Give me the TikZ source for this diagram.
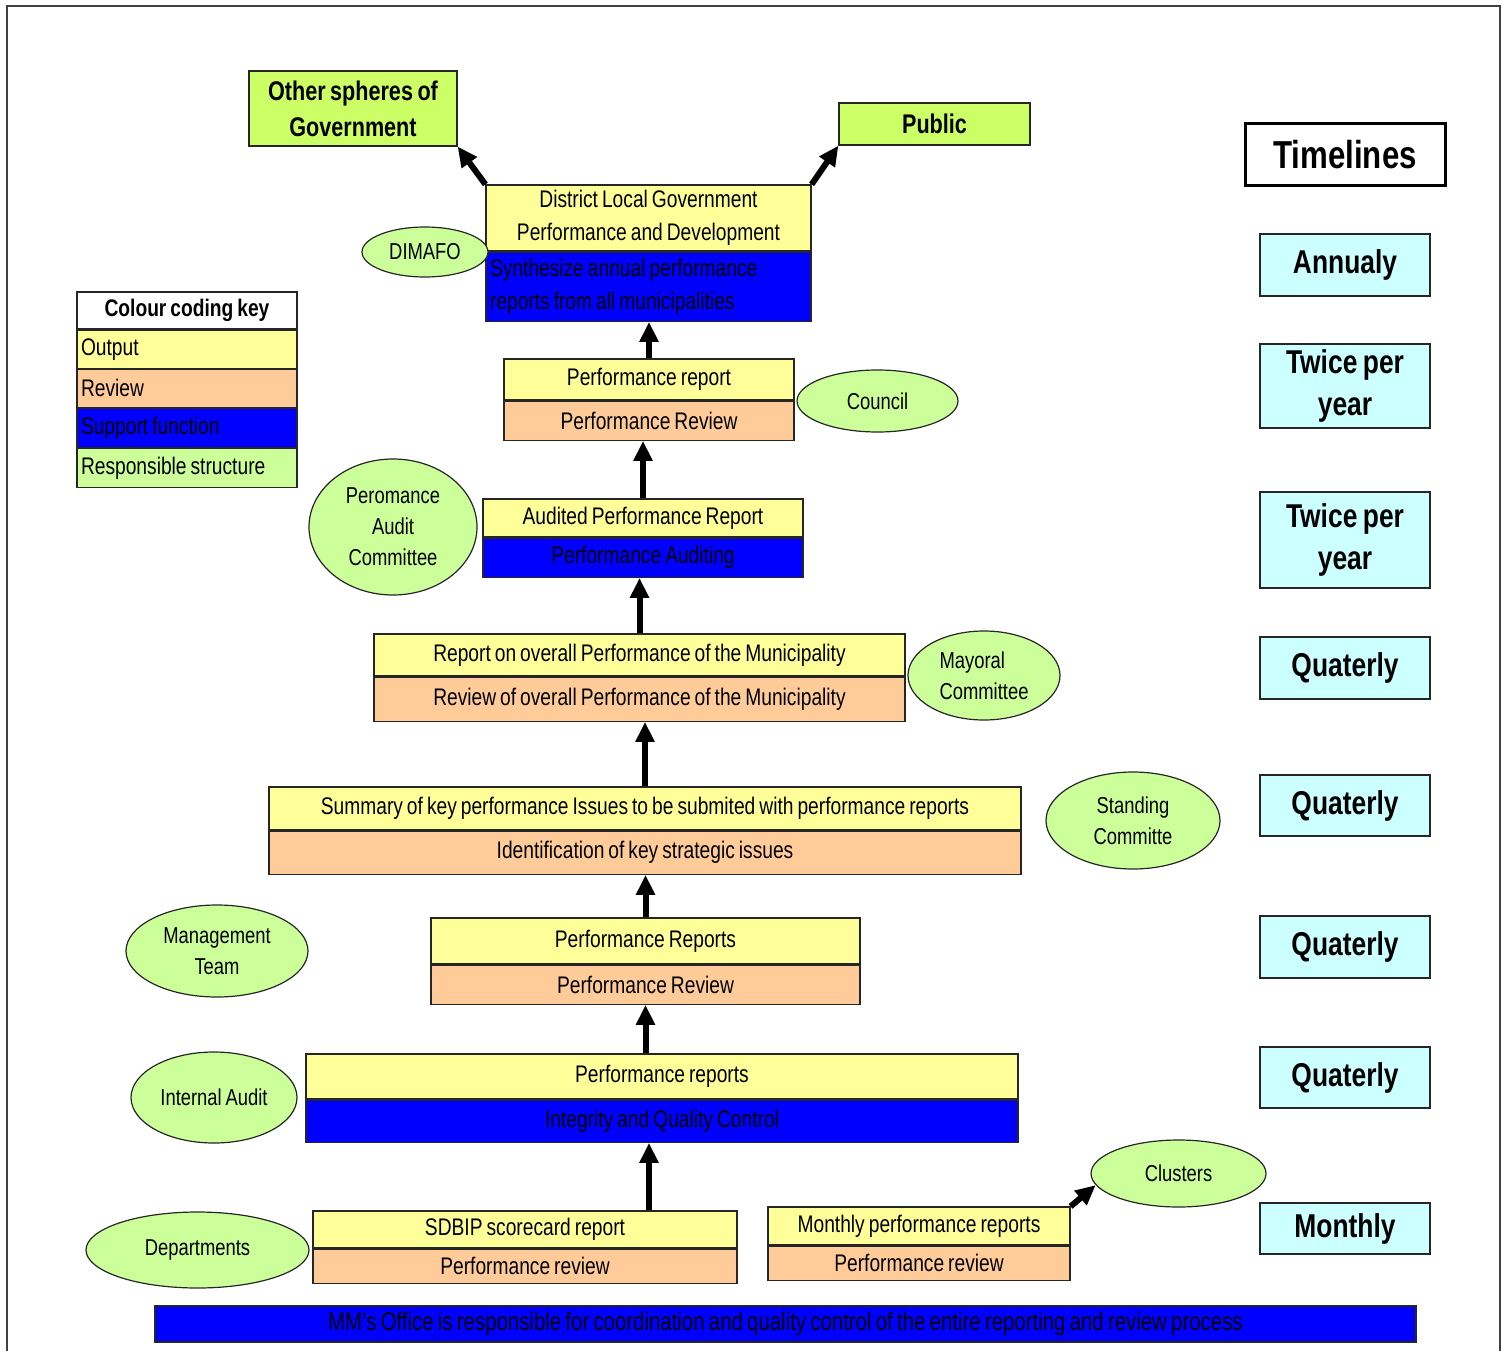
\documentclass[tikz,border=0pt]{standalone}
\usepackage{xcolor}
\usepackage{fontspec}
\setmainfont{Liberation Sans}[FakeStretch=0.8,WordSpace=0.75]
\usepackage{tikz}
\usetikzlibrary{positioning,shapes.geometric,arrows.meta}

\definecolor{outyellow}{HTML}{FFFF99}
\definecolor{revpeach}{HTML}{FFCC99}
\definecolor{supblue}{HTML}{0000FF}
\definecolor{resgreen}{HTML}{CCFF99}
\definecolor{extgreen}{HTML}{CCFF66}
\definecolor{timecyan}{HTML}{CCFFFF}

\begin{document}
\begin{tikzpicture}[x=1pt,y=-1pt,
  part/.style={draw=black!85,line width=1.2pt,inner sep=4pt,font=\fontsize{24}{33}\selectfont},
  output/.style={part,fill=outyellow,align=center},
  review/.style={part,fill=revpeach,align=center},
  support/.style={part,fill=supblue,align=center},
  tightsp/.style={execute at begin node={\spaceskip=\fontdimen2\font\relax}},
  keyrow/.style={part,tightsp,text width=212pt,minimum height=38pt,align=left},
  resp/.style={ellipse,draw=black!85,line width=1.2pt,fill=resgreen,inner sep=0pt,
    align=center,font=\fontsize{23}{31}\selectfont},
  extbox/.style={draw=black!85,line width=1.2pt,fill=extgreen,align=center,
    font=\bfseries\fontsize{27}{36}\selectfont},
  timebox/.style={draw=black!85,line width=1.2pt,fill=timecyan,minimum width=170pt,
    align=center,font=\bfseries\fontsize{33}{42}\selectfont},
  arr/.style={line width=6pt,-{Triangle[length=20pt,width=18pt]}}]

  \useasboundingbox (0,0) rectangle (1509,1351);
  \draw[black!75,line width=2pt] (7,1351) -- (7,6) -- (1500,6) -- (1500,1351);

  % Livello distrettuale
  \node[output,minimum width=325pt,minimum height=66pt] (dlgTop) at (648.5,218)
    {District Local Government\\Performance and Development};
  \node[support,tightsp,below=0pt of dlgTop,text width=317pt,minimum height=69pt,align=left] (dlgBot)
    {Synthesize annual performance\\reports from all municipalities};
  \node[resp,minimum width=126pt,minimum height=50pt] (dimafo) at (425,252) {DIMAFO};
  \node[extbox,minimum width=208pt,minimum height=75pt] (spheres) at (353,108.5)
    {Other spheres of\\Government};
  \node[extbox,minimum width=191pt,minimum height=42pt] (public) at (934.5,124) {Public};

  % Legenda
  \node[part,tightsp,text width=212pt,minimum height=37pt,align=center,
    font=\bfseries\fontsize{24}{30}\selectfont] (keyHead) at (187,310.5) {Colour coding key};
  \node[keyrow,fill=outyellow,below=0pt of keyHead] (keyOut) {Output};
  \node[keyrow,fill=revpeach,below=0pt of keyOut] (keyRev) {Review};
  \node[keyrow,fill=supblue,minimum height=39pt,below=0pt of keyRev] (keySup) {Support function};
  \node[keyrow,fill=resgreen,minimum height=39pt,below=0pt of keySup] (keyRes) {Responsible structure};

  % Rapporti
  \node[output,minimum width=290pt,minimum height=41pt] (prTop) at (649,379.5) {Performance report};
  \node[review,below=0pt of prTop,minimum width=290pt,minimum height=39pt] (prBot) {Performance Review};
  \node[resp,minimum width=161pt,minimum height=62pt] (council) at (877.5,401) {Council};

  \node[output,minimum width=320pt,minimum height=38pt] (audTop) at (643,518) {Audited Performance Report};
  \node[support,below=0pt of audTop,minimum width=320pt,minimum height=39pt] (audBot) {Performance Auditing};
  \node[resp,minimum width=168pt,minimum height=136pt] (pac) at (393,527) {Peromance\\Audit\\Committee};

  \node[output,minimum width=531pt,minimum height=42pt] (ovTop) at (639.5,655)
    {Report on overall Performance of the Municipality};
  \node[review,below=0pt of ovTop,minimum width=531pt,minimum height=44pt] (ovBot)
    {Review of overall Performance of the Municipality};
  \node[resp,minimum width=152pt,minimum height=89pt,align=left] (mayoral) at (984,675.5)
    {Mayoral\\Committee};

  \node[output,minimum width=752pt,minimum height=43pt] (sumTop) at (645,808.5)
    {Summary of key performance Issues to be submited with performance reports};
  \node[review,below=0pt of sumTop,minimum width=752pt,minimum height=43pt] (sumBot)
    {Identification of key strategic issues};
  \node[resp,minimum width=174pt,minimum height=97pt] (standing) at (1133,820.5) {Standing\\Committe};

  \node[output,minimum width=429pt,minimum height=46pt] (perfTop) at (645.5,941) {Performance Reports};
  \node[review,below=0pt of perfTop,minimum width=429pt,minimum height=39pt] (perfBot) {Performance Review};
  \node[resp,minimum width=182pt,minimum height=92pt] (mgmt) at (217,951) {Management\\Team};

  \node[output,minimum width=712pt,minimum height=45pt] (intTop) at (662,1076.5) {Performance reports};
  \node[support,below=0pt of intTop,minimum width=712pt,minimum height=42pt] (intBot)
    {Integrity and Quality Control};
  \node[resp,minimum width=166pt,minimum height=91pt] (intaudit) at (214,1097.5) {Internal Audit};

  \node[output,minimum width=424pt,minimum height=37pt] (sdbTop) at (525,1229.5) {SDBIP scorecard report};
  \node[review,below=0pt of sdbTop,minimum width=424pt,minimum height=34pt] (sdbBot) {Performance review};
  \node[resp,minimum width=223pt,minimum height=76pt] (depts) at (197.5,1250) {Departments};

  \node[output,minimum width=302pt,minimum height=38pt] (mpTop) at (919,1226) {Monthly performance reports};
  \node[review,below=0pt of mpTop,minimum width=302pt,minimum height=34pt] (mpBot) {Performance review};
  \node[resp,minimum width=175pt,minimum height=67pt] (clusters) at (1178.5,1173.5) {Clusters};

  \node[support,minimum width=1261pt,minimum height=36pt,font=\fontsize{25.5}{30}\selectfont] (mmOffice)
    at (785.5,1324) {MM's Office is responsible for coordination and quality control of the entire reporting and review process};

  % Tempi
  \node[draw,line width=3pt,minimum width=200pt,minimum height=62pt,
    font=\bfseries\fontsize{39}{46}\selectfont] (timelines) at (1345,155) {Timelines};
  \foreach \tname/\ty/\th/\tlabel in {tAnn/265/62/Annualy, tTw1/386/84/{Twice per\\year},
      tTw2/540/96/{Twice per\\year}, tQ1/668/62/Quaterly, tQ2/805.5/61/Quaterly,
      tQ3/947/62/Quaterly, tQ4/1077.5/61/Quaterly, tMon/1228.5/51/Monthly}
    \node[timebox,minimum height=\th pt] (\tname) at (1345,\ty) {\tlabel};

  % Frecce
  \coordinate (sdbOut) at ([xshift=124pt]sdbTop.north);
  \draw[arr] (sdbOut) -- (sdbOut |- intBot.south);
  \draw[arr] (perfBot.south |- intTop.north) -- (perfBot.south);
  \draw[arr] (perfTop.north) -- (perfTop.north |- sumBot.south);
  \draw[arr] (sumTop.north) -- (sumTop.north |- ovBot.south);
  \draw[arr] (ovTop.north) -- (ovTop.north |- audBot.south);
  \draw[arr] (audTop.north) -- (audTop.north |- prBot.south);
  \draw[arr] (prTop.north) -- (prTop.north |- dlgBot.south);
  \draw[arr] (dlgTop.north west) -- (spheres.south east);
  \draw[arr] (dlgTop.north east) -- (public.south west);
  \draw[arr] (mpTop.north east) -- (clusters.188);

\end{tikzpicture}
\end{document}
